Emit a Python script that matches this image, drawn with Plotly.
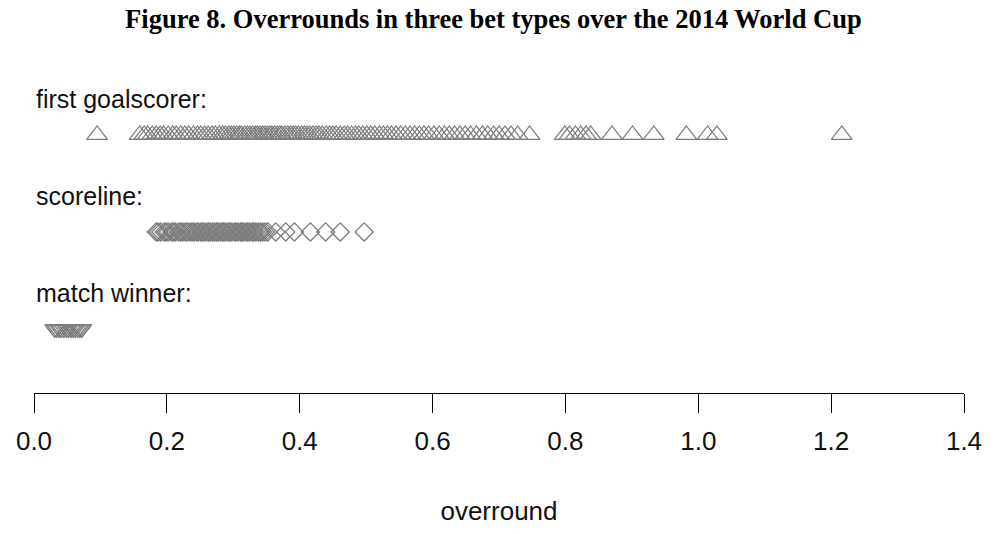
import plotly.graph_objects as go

# Overround per match for three bet types (2014 World Cup)
first_goalscorer = [
    0.095, 0.159, 0.166, 0.171, 0.178, 0.184, 0.19, 0.195, 0.202, 0.209,
    0.214, 0.221, 0.227, 0.233, 0.24, 0.246, 0.251, 0.257, 0.262, 0.268,
    0.273, 0.279, 0.284, 0.288, 0.293, 0.297, 0.301, 0.305, 0.309, 0.312,
    0.317, 0.321, 0.325, 0.329, 0.333, 0.336, 0.34, 0.344, 0.347, 0.351,
    0.355, 0.358, 0.362, 0.366, 0.37, 0.373, 0.378, 0.382, 0.386, 0.39,
    0.394, 0.398, 0.403, 0.407, 0.411, 0.415, 0.42, 0.425, 0.429, 0.434,
    0.44, 0.445, 0.45, 0.455, 0.461, 0.467, 0.472, 0.478, 0.484, 0.489,
    0.495, 0.501, 0.507, 0.513, 0.52, 0.526, 0.532, 0.538, 0.545, 0.552,
    0.559, 0.566, 0.573, 0.58, 0.587, 0.594, 0.602, 0.61, 0.618, 0.625,
    0.633, 0.641, 0.649, 0.657, 0.666, 0.675, 0.683, 0.692, 0.7, 0.709,
    0.718, 0.728, 0.746, 0.799, 0.806, 0.815, 0.823, 0.831, 0.838, 0.870,
    0.901, 0.933, 0.982, 1.014, 1.028, 1.216,
]
scoreline = [
    0.184, 0.187, 0.191, 0.196, 0.199, 0.202, 0.207, 0.21, 0.213, 0.218,
    0.221, 0.224, 0.228, 0.231, 0.235, 0.238, 0.241, 0.245, 0.247, 0.251,
    0.254, 0.256, 0.26, 0.263, 0.265, 0.269, 0.272, 0.275, 0.277, 0.281,
    0.284, 0.286, 0.289, 0.293, 0.295, 0.298, 0.302, 0.304, 0.307, 0.311,
    0.313, 0.316, 0.32, 0.322, 0.325, 0.329, 0.331, 0.334, 0.338, 0.341,
    0.344, 0.348, 0.352, 0.364, 0.379, 0.392, 0.416, 0.439, 0.461, 0.497,
]
match_winner = [
    0.031, 0.034, 0.038, 0.041, 0.045, 0.049, 0.052, 0.056,
    0.059, 0.062, 0.066, 0.069, 0.072,
]

group_labels = ["first goalscorer:", "scoreline:", "match winner:"]
group_rows = [3, 2, 1]
group_symbols = ["triangle-up-open", "diamond-open", "triangle-down-open"]
group_sizes = [18, 14, 17]
group_values = [first_goalscorer, scoreline, match_winner]

tick_values = [0.0, 0.2, 0.4, 0.6, 0.8, 1.0, 1.2, 1.4]
tick_text = ["0.0", "0.2", "0.4", "0.6", "0.8", "1.0", "1.2", "1.4"]

GREY = "rgb(125,125,125)"
SANS = "Liberation Sans, Arial, sans-serif"

fig = go.Figure()
for vals, row, sym, size in zip(group_values, group_rows, group_symbols, group_sizes):
    fig.add_trace(go.Scatter(
        x=vals, y=[row] * len(vals), mode="markers", cliponaxis=False,
        marker=dict(symbol=sym, size=size, color=GREY,
                    line=dict(color=GREY, width=1.3)),
        showlegend=False, hoverinfo="x",
    ))

for label, row in zip(group_labels, group_rows):
    fig.add_annotation(x=0, y=row + 0.37, xref="x", yref="y", text=label,
                       showarrow=False, xanchor="left", yanchor="middle",
                       font=dict(family=SANS, size=25, color="#111"))

fig.update_layout(
    width=994, height=534,
    margin=dict(l=34, r=26, t=40, b=141),
    paper_bgcolor="white", plot_bgcolor="white",
    title=dict(text="<b>Figure 8. Overrounds in three bet types over the 2014 World Cup</b>",
               x=0.494, xanchor="center", xref="paper",
               y=1 - 19 / 534, yanchor="middle", yref="container",
               font=dict(family="Liberation Serif, Times New Roman, serif",
                         size=26.5, color="black")),
    xaxis=dict(range=[0, 1.4], tickvals=tick_values, ticktext=tick_text,
               showline=True, linecolor="black", linewidth=1,
               ticks="outside", ticklen=19, tickwidth=1, tickcolor="black",
               ticklabelstandoff=6,
               showgrid=False, zeroline=False,
               tickfont=dict(family=SANS, size=26, color="#111"),
               title=dict(text="overround", standoff=46,
                          font=dict(family=SANS, size=26, color="#111"))),
    yaxis=dict(range=[0.34, 3.979], showticklabels=False, showgrid=False,
               zeroline=False, showline=False, ticks=""),
)

fig.write_html("out.html")
